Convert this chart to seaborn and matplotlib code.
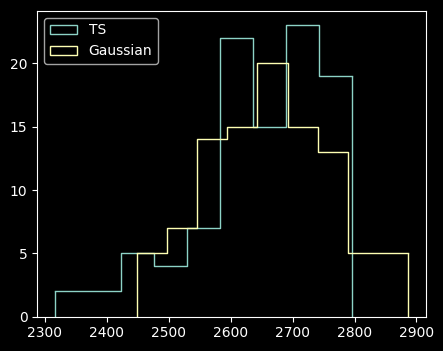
import numpy as np
import pandas as pd
import matplotlib
matplotlib.use("Agg")
import matplotlib.pyplot as plt
from matplotlib.patches import Patch
import seaborn as sns

# Data (bin edges and counts)
ts_edges = [2316.0, 2369.3, 2422.6, 2475.9, 2529.2, 2582.5, 2635.8, 2689.1, 2742.4, 2795.7]
ts_counts = [2, 2, 5, 4, 7, 22, 15, 23, 19]
gauss_edges = [2448.5, 2497.2, 2545.8, 2594.5, 2643.1, 2691.8, 2740.4, 2789.1, 2837.7, 2886.4]
gauss_counts = [5, 7, 14, 15, 20, 15, 13, 5, 5]
labels = ["TS", "Gaussian"]
colors = ["#8dd3c7", "#feffb3"]

plt.style.use("dark_background")
fig, ax = plt.subplots(figsize=(4.43, 3.51), dpi=100)

for edges, counts, col in [(ts_edges, ts_counts, colors[0]), (gauss_edges, gauss_counts, colors[1])]:
    e = np.asarray(edges, dtype=float)
    centers = (e[:-1] + e[1:]) / 2
    df = pd.DataFrame({"x": centers, "w": np.asarray(counts, dtype=float)})
    sns.histplot(data=df, x="x", weights="w", bins=list(edges), element="step", fill=False,
                 color=col, linewidth=1.0, ax=ax)
    ax.vlines([e[0], e[-1]], 0, [counts[0], counts[-1]], color=col, linewidth=1.0)

ax.set_ylim(bottom=0)
ax.set_ylabel("")
ax.set_xlabel("")
ax.set_yticks([0, 5, 10, 15, 20])
handles = [Patch(facecolor="none", edgecolor=c, label=l) for c, l in zip(colors, labels)]
ax.legend(handles=handles, loc="upper left")

fig.subplots_adjust(left=0.084, right=0.961, bottom=0.098, top=0.969)
fig.savefig("out.png", dpi=100)
